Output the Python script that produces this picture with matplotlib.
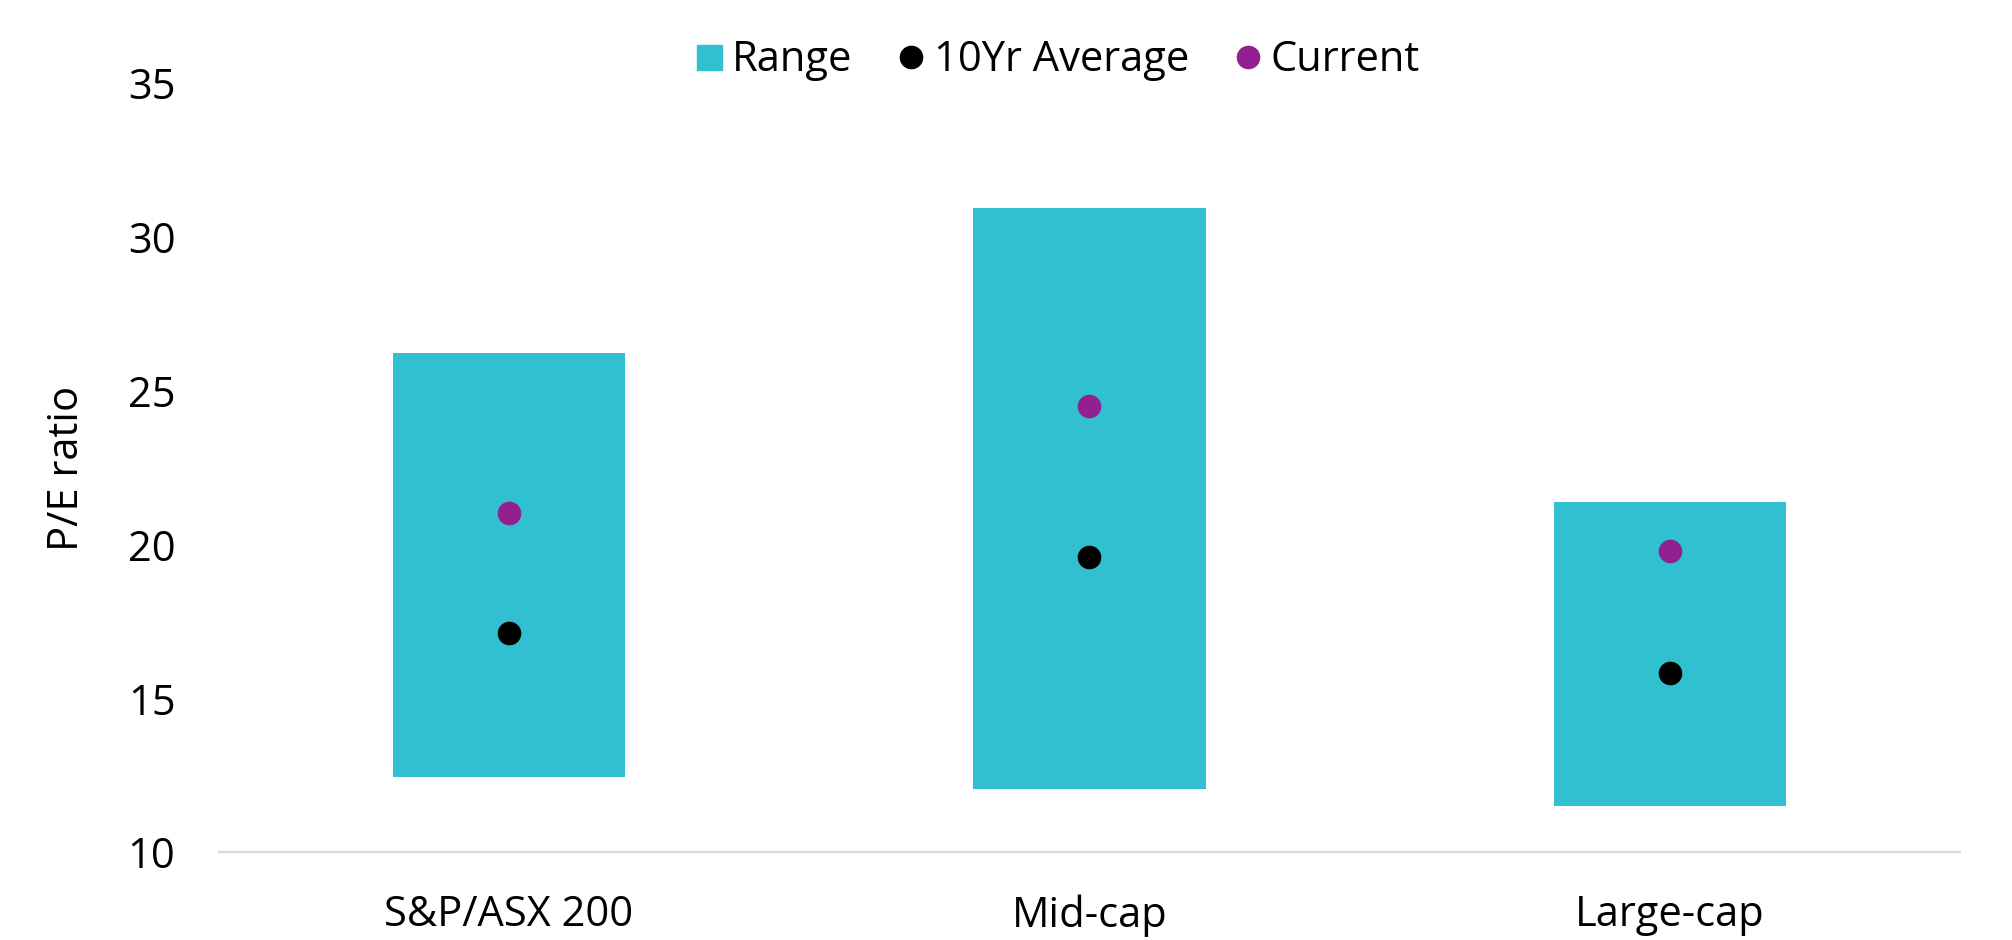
import matplotlib
matplotlib.use("Agg")
import matplotlib.pyplot as plt
from matplotlib.lines import Line2D

# P/E ranges by index segment
categories = ["S&P/ASX 200", "Mid-cap", "Large-cap"]
range_low = [12.45, 12.05, 11.5]
range_high = [26.25, 30.95, 21.4]
avg_10yr = [17.15, 19.6, 15.85]
current = [21.05, 24.5, 19.8]

TEAL = "#31C0CF"
PURPLE = "#922090"
BLACK = "#000000"

plt.rcParams['font.family'] = ['Open Sans', 'DejaVu Sans']
plt.rcParams['font.size'] = 30

fig = plt.figure(figsize=(20.12, 9.4), dpi=100)
ax = fig.add_axes([0.1086, 0.0931, 0.8658, 0.8181])

x = list(range(len(categories)))
heights = [h - l for h, l in zip(range_high, range_low)]
ax.bar(x, heights, bottom=range_low, width=0.4, color=TEAL, zorder=2)
ax.plot(x, avg_10yr, 'o', color=BLACK, markersize=16, zorder=3)
ax.plot(x, current, 'o', color=PURPLE, markersize=16, zorder=3)

ax.set_xlim(-0.5, 2.5)
ax.set_ylim(10, 35)
ax.set_yticks([10, 15, 20, 25, 30, 35])
ax.set_xticks(x)
ax.set_xticklabels(categories)

for side in ['top', 'right', 'left']:
    ax.spines[side].set_visible(False)
ax.spines['bottom'].set_color('#D9D9D9')
ax.spines['bottom'].set_linewidth(1.7)

ax.tick_params(axis='y', length=0, pad=31, labelsize=30)
ax.tick_params(axis='x', length=0, pad=30, labelsize=30)

ax.set_ylabel("P/E ratio", fontsize=30)
ax.yaxis.set_label_coords(-0.075, 0.5)

handles = [
    Line2D([], [], marker='s', linestyle='none', color=TEAL, markersize=18),
    Line2D([], [], marker='o', linestyle='none', color=BLACK, markersize=16),
    Line2D([], [], marker='o', linestyle='none', color=PURPLE, markersize=16),
]
fig.legend(handles, ["Range", "10Yr Average", "Current"],
           loc='center', bbox_to_anchor=(0.526, 0.936), ncol=3,
           frameon=False, fontsize=30, handlelength=0.6,
           handletextpad=0.25, columnspacing=1.1, borderpad=0)

fig.savefig("out.png", dpi=100, facecolor='white')
